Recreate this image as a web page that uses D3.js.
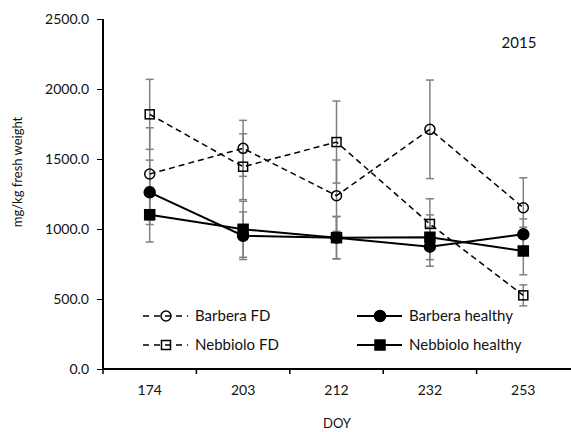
<!DOCTYPE html>
<html><head><meta charset="utf-8">
<script src="https://cdn.jsdelivr.net/npm/d3@7"></script>
<style>body{margin:0;background:#fff}svg{display:block}text{font-family:Lato,"Open Sans",sans-serif;fill:#111}</style>
</head><body><svg id="c" width="571" height="432"></svg>
<script>
const categories = ["174","203","212","232","253"];
const yTicks = [0,500,1000,1500,2000,2500];
const barberaFD = [1393,1576,1238,1712,1152];
const barberaFDErr = [330,200,255,352,214];
const nebbioloFD = [1819,1445,1621,1036,526];
const nebbioloFDErr = [250,235,293,180,75];
const barberaH = [1262,952,938,874,962];
const barberaHErr = [230,170,152,140,110];
const nebbioloH = [1102,998,938,941,843];
const nebbioloHErr = [195,200,150,160,170];
const seriesNames = ["Barbera FD","Barbera healthy","Nebbiolo FD","Nebbiolo healthy"];

const svg = d3.select("#c");
const L=103,R=570,T=19,B=369;
const x = d3.scaleBand().domain(categories).range([L,R]);
const y = d3.scaleLinear().domain([0,2500]).range([B,T]);

const series = [
 {name:seriesNames[0],v:barberaFD,e:barberaFDErr,shape:"circle",fill:false,dash:"6,4"},
 {name:seriesNames[2],v:nebbioloFD,e:nebbioloFDErr,shape:"square",fill:false,dash:"6,4"},
 {name:seriesNames[1],v:barberaH,e:barberaHErr,shape:"circle",fill:true,dash:null},
 {name:seriesNames[3],v:nebbioloH,e:nebbioloHErr,shape:"square",fill:true,dash:null}
];
const cx = c => x(c)+x.bandwidth()/2;

// axes
const ya = svg.append("g").attr("transform",`translate(${L},0)`)
 .call(d3.axisLeft(y).tickValues(yTicks).tickFormat(d3.format(".1f")).tickSize(6).tickPadding(8));
ya.select(".domain").remove();
ya.selectAll("line").attr("stroke","#000");
ya.selectAll("text").attr("font-size",14).style("font-family","Lato").attr("fill","#111");
svg.append("line").attr("x1",L).attr("x2",L).attr("y1",y(2500)).attr("y2",B).attr("stroke","#000").attr("stroke-width",2);

const xa = svg.append("g").attr("transform",`translate(0,${B})`)
 .call(d3.axisBottom(x).tickSize(0).tickPadding(16));
xa.select(".domain").remove();
xa.selectAll("text").attr("font-size",14).style("font-family","Lato").attr("fill","#111");
svg.append("g").selectAll("line").data(categories).join("line")
 .attr("x1",d=>x(d)).attr("x2",d=>x(d)).attr("y1",B).attr("y2",B+5).attr("stroke","#000").attr("stroke-width",1.5);
svg.append("line").attr("x1",L-1).attr("x2",571).attr("y1",B).attr("y2",B).attr("stroke","#000").attr("stroke-width",2);

svg.append("text").attr("x",337).attr("y",428).attr("text-anchor","middle").attr("font-size",13).text("DOY");
svg.append("text").attr("transform","translate(22,172) rotate(-90)").attr("text-anchor","middle").attr("font-size",13).text("mg/kg fresh weight");
svg.append("text").attr("x",519).attr("y",48).attr("text-anchor","middle").attr("font-size",15).text("2015");

// error bars
series.forEach(s=>{
 const g=svg.append("g").attr("stroke","#808080").attr("stroke-width",1.5);
 categories.forEach((c,i)=>{
  const X=cx(c),y1=y(s.v[i]+s.e[i]),y2=y(s.v[i]-s.e[i]);
  g.append("line").attr("x1",X).attr("x2",X).attr("y1",y1).attr("y2",y2);
  g.append("line").attr("x1",X-4).attr("x2",X+4).attr("y1",y1).attr("y2",y1);
  g.append("line").attr("x1",X-4).attr("x2",X+4).attr("y1",y2).attr("y2",y2);
 });
});

function marker(g,shape,fill,X,Y){
 if(shape==="circle") g.append("circle").attr("cx",X).attr("cy",Y).attr("r",fill?5.5:5)
   .attr("fill",fill?"#000":"none").attr("stroke","#000").attr("stroke-width",1.5);
 else { const s=fill?10:9; g.append("rect").attr("x",X-s/2).attr("y",Y-s/2).attr("width",s).attr("height",s)
   .attr("fill",fill?"#000":"none").attr("stroke","#000").attr("stroke-width",1.5);}
}
const line=d3.line().x((d,i)=>cx(categories[i])).y(d=>y(d));
series.forEach(s=>{
 svg.append("path").attr("d",line(s.v)).attr("fill","none").attr("stroke","#000")
  .attr("stroke-width",s.fill?2:1.5).attr("stroke-dasharray",s.dash);
});
series.forEach(s=>{
 const g=svg.append("g");
 categories.forEach((c,i)=>marker(g,s.shape,s.fill,cx(c),y(s.v[i])));
});

// legend
const leg=[
 {s:series[0],x:143,y:316},{s:series[1],x:143,y:345},
 {s:series[2],x:357,y:316},{s:series[3],x:357,y:345}
];
leg.forEach(l=>{
 const g=svg.append("g");
 g.append("line").attr("x1",l.x).attr("x2",l.x+45).attr("y1",l.y).attr("y2",l.y).attr("stroke","#000")
  .attr("stroke-width",l.s.fill?2:1.5).attr("stroke-dasharray",l.s.dash?"6,5":null);
 marker(g,l.s.shape,l.s.fill,l.x+23,l.y);
 g.append("text").attr("x",l.x+52).attr("y",l.y+5).attr("font-size",15).text(l.s.name);
});
</script></body></html>
